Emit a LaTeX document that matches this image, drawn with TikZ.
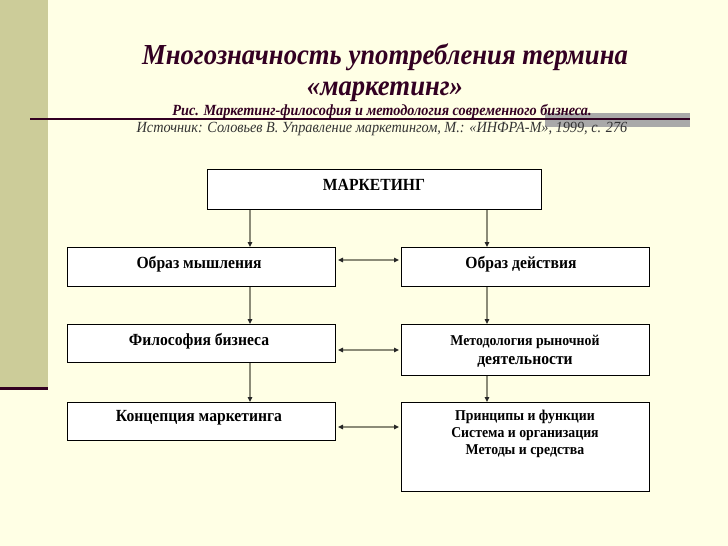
\documentclass[tikz,border=0pt]{standalone}
\usepackage{fontspec}
\setmainfont{Liberation Serif}[FakeStretch=0.92]
\usetikzlibrary{arrows.meta}
\definecolor{bg}{HTML}{FFFFE5}
\definecolor{band}{HTML}{CCCC99}
\definecolor{dark}{HTML}{330022}
\definecolor{conn}{HTML}{8C8C78}
\definecolor{grayrect}{HTML}{A9A9A9}
\definecolor{srcgray}{HTML}{333333}
\begin{document}
\begin{tikzpicture}[x=1pt,y=-1pt,
  box/.style={draw=black, line width=1pt, fill=white, anchor=north west, inner sep=0pt},
  txt/.style={font=\bfseries\fontsize{17}{17}\selectfont, inner sep=0pt, anchor=base},
  small/.style={font=\bfseries\fontsize{15}{15}\selectfont, inner sep=0pt, anchor=base},
  tip/.tip={Triangle[length=5pt,width=4.5pt,fill=black!85,color=black!85]},
  arr/.style={draw=conn, line width=1.6pt, -tip},
  dbl/.style={draw=conn, line width=1.6pt, tip-tip, shorten <=2pt, shorten >=2pt},
  ttl/.style={font=\bfseries\itshape\fontsize{29}{30}\selectfont, text=dark, anchor=base, inner sep=0pt}]
\useasboundingbox (0,0) rectangle (728,546);
\fill[bg] (0,0) rectangle (728,546);
\fill[band] (0,0) rectangle (48,387);
\draw[dark, line width=3pt] (0,388) -- (48,388);
\fill[grayrect] (545,113) rectangle (690,127);
\draw[dark, line width=2.5pt] (30,119) -- (690,119);
% titles
\node[ttl] (t1) at (385,64) {Многозначность употребления термина};
\node[ttl] (t2) at (385,95) {«маркетинг»};
\node[font=\bfseries\itshape\fontsize{15.5}{16}\selectfont, text=dark, anchor=base, inner sep=0pt] (t3) at (382,115) {Рис. Маркетинг-философия и методология современного бизнеса.};
\node[font=\itshape\fontsize{15.5}{16}\selectfont, text=srcgray, anchor=base, inner sep=0pt] (t4) at (382,132) {Источник: Соловьев В. Управление маркетингом, М.: «ИНФРА-М», 1999, с. 276};
% boxes
\node[box, minimum width=334pt, minimum height=40pt] (mk) at (207,169) {};
\node[box, minimum width=268pt, minimum height=39pt] (om) at (67,247) {};
\node[box, minimum width=248pt, minimum height=39pt] (od) at (401,247) {};
\node[box, minimum width=268pt, minimum height=38pt] (fb) at (67,324) {};
\node[box, minimum width=248pt, minimum height=51pt] (md) at (401,324) {};
\node[box, minimum width=268pt, minimum height=38pt] (km) at (67,402) {};
\node[box, minimum width=248pt, minimum height=89pt] (pf) at (401,402) {};
% texts
\node[txt] (mkt) at (374,190) {МАРКЕТИНГ};
\node[txt] (omt) at (199,268) {Образ мышления};
\node[txt] (odt) at (521,268) {Образ действия};
\node[txt] (fbt) at (199,345) {Философия бизнеса};
\node[small] (mdt1) at (525,345) {Методология рыночной};
\node[txt] (mdt2) at (525,364) {деятельности};
\node[txt] (kmt) at (199,421) {Концепция маркетинга};
\node[small] (pft1) at (525,420) {Принципы и функции};
\node[small] (pft2) at (525,437) {Система и организация};
\node[small] (pft3) at (525,454) {Методы и средства};
% vertical arrows
\draw[arr] (250,0 |- mk.south) -- (250,0 |- om.north);
\draw[arr] (487,0 |- mk.south) -- (487,0 |- od.north);
\draw[arr] (250,0 |- om.south) -- (250,0 |- fb.north);
\draw[arr] (487,0 |- od.south) -- (487,0 |- md.north);
\draw[arr] (250,0 |- fb.south) -- (250,0 |- km.north);
\draw[arr] (487,0 |- md.south) -- (487,0 |- pf.north);
% horizontal arrows
\draw[dbl] (om.east |- 0,260) -- (od.west |- 0,260);
\draw[dbl] (fb.east |- 0,350) -- (md.west |- 0,350);
\draw[dbl] (km.east |- 0,427) -- (pf.west |- 0,427);
\end{tikzpicture}
\end{document}
